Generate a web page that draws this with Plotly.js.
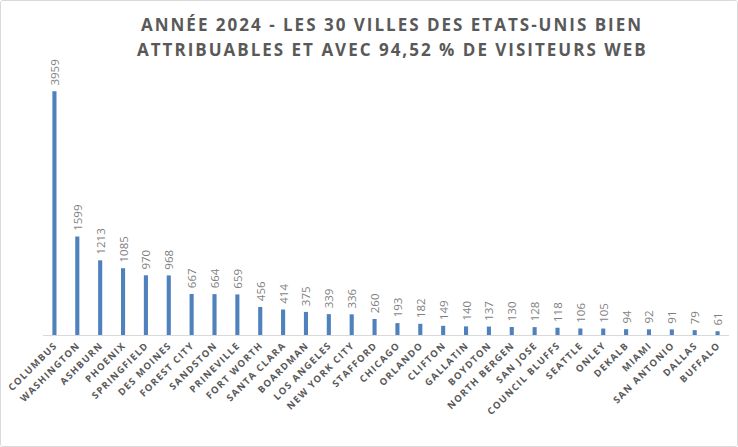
<!DOCTYPE html>
<html><head><meta charset="utf-8">
<script src="https://cdn.plot.ly/plotly-3.0.1.min.js"></script>
<style>
html,body{margin:0;padding:0;background:#fff;}
#wrap{width:738px;height:447px;box-sizing:border-box;border:1px solid #d9d9d9;border-radius:3px;overflow:hidden;}
#chart{width:736px;height:445px;}
.annotation-text{letter-spacing:2px;}
.xtick text{letter-spacing:1.3px;}
</style></head>
<body><div id="wrap"><div id="chart"></div></div>
<script>
const cities = ["COLUMBUS","WASHINGTON","ASHBURN","PHOENIX","SPRINGFIELD","DES MOINES","FOREST CITY","SANDSTON","PRINEVILLE","FORT WORTH","SANTA CLARA","BOARDMAN","LOS ANGELES","NEW YORK CITY","STAFFORD","CHICAGO","ORLANDO","CLIFTON","GALLATIN","BOYDTON","NORTH BERGEN","SAN JOSE","COUNCIL BLUFFS","SEATTLE","ONLEY","DEKALB","MIAMI","SAN ANTONIO","DALLAS","BUFFALO"];
const visitors = [3959,1599,1213,1085,970,968,667,664,659,456,414,375,339,336,260,193,182,149,140,137,130,128,118,106,105,94,92,91,79,61];
const titleLines = ["ANNÉE 2024 - LES 30 VILLES DES ETATS-UNIS BIEN", "ATTRIBUABLES ET AVEC 94,52 % DE VISITEURS WEB"];

const trace = {
  type: 'bar',
  x: cities,
  y: visitors,
  marker: {color: '#4f81bd'},
  text: visitors.map(v => '\u2002' + v),
  textposition: 'outside',
  textangle: -90,
  constraintext: 'none',
  cliponaxis: false,
  textfont: {family: 'Open Sans, sans-serif', size: 11.5, color: '#7f7f7f'},
  hoverinfo: 'x+y'
};
const titleFont = {family: 'Open Sans, sans-serif', size: 17, color: '#595959', weight: 'bold'};
const layout = {
  width: 736, height: 445,
  margin: {l: 42, r: 8, t: 57, b: 111},
  paper_bgcolor: '#fff', plot_bgcolor: '#fff',
  bargap: 0.82,
  showlegend: false,
  annotations: [
    {text: titleLines[0], xref: 'paper', yref: 'paper', x: 0.5, y: 1.122, xshift: 6, xanchor: 'center', yanchor: 'middle', showarrow: false, font: titleFont},
    {text: titleLines[1], xref: 'paper', yref: 'paper', x: 0.5, y: 1.032, xshift: 6, xanchor: 'center', yanchor: 'middle', showarrow: false, font: titleFont}
  ],
  xaxis: {
    type: 'category',
    tickangle: -45,
    showgrid: false,
    showline: true, linecolor: '#d9d9d9', linewidth: 1,
    ticks: '',
    tickfont: {family: 'Open Sans, sans-serif', size: 9.5, color: '#595959', weight: 'bold'},
    automargin: false
  },
  yaxis: {
    range: [0, 4500],
    visible: false,
    showgrid: false,
    zeroline: false
  }
};
Plotly.newPlot('chart', [trace], layout, {displayModeBar: false, staticPlot: true});
</script></body></html>
